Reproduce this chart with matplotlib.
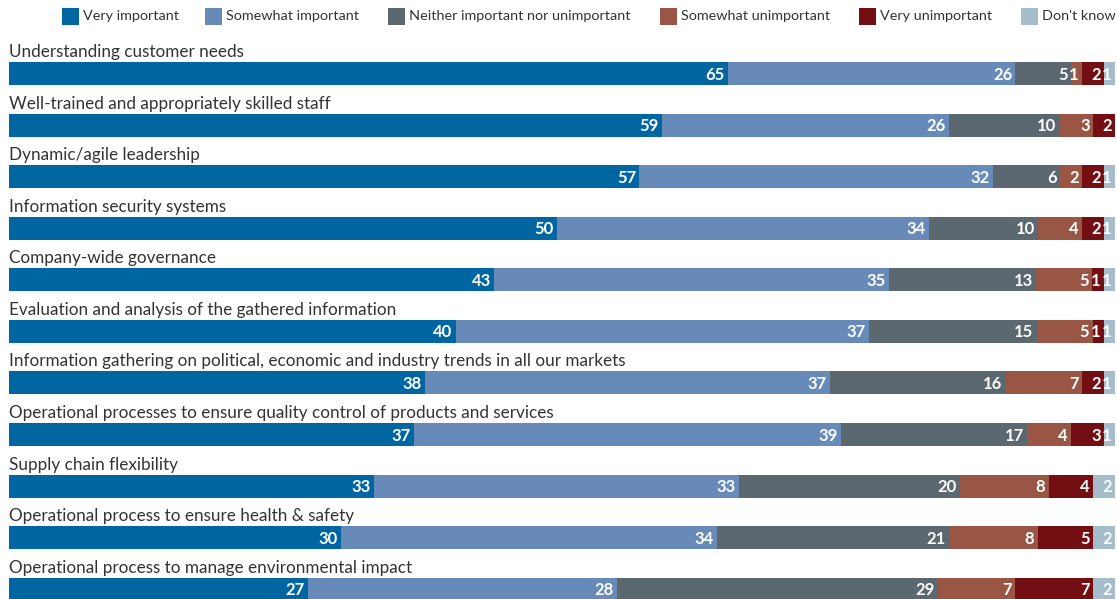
import numpy as np
import matplotlib.pyplot as plt
from matplotlib.patches import Rectangle

plt.rcParams['font.family'] = ['Lato', 'DejaVu Sans']

categories = [
    'Understanding customer needs',
    'Well-trained and appropriately skilled staff',
    'Dynamic/agile leadership',
    'Information security systems',
    'Company-wide governance',
    'Evaluation and analysis of the gathered information',
    'Information gathering on political, economic and industry trends in all our markets',
    'Operational processes to ensure quality control of products and services',
    'Supply chain flexibility',
    'Operational process to ensure health & safety',
    'Operational process to manage environmental impact',
]

series_names = ['Very important', 'Somewhat important', 'Neither important nor unimportant',
                'Somewhat unimportant', 'Very unimportant', "Don't know"]

very_important = [65, 59, 57, 50, 43, 40, 38, 37, 33, 30, 27]
somewhat_important = [26, 26, 32, 34, 35, 37, 37, 39, 33, 34, 28]
neither = [5, 10, 6, 10, 13, 15, 16, 17, 20, 21, 29]
somewhat_unimportant = [1, 3, 2, 4, 5, 5, 7, 4, 8, 8, 7]
very_unimportant = [2, 2, 2, 2, 1, 1, 2, 3, 4, 5, 7]
dont_know = [1, 0, 1, 1, 1, 1, 1, 1, 2, 2, 2]

colors = ['#0066a1', '#678ab9', '#5b6870', '#9a5645', '#730e12', '#a5bccb']

vals = np.array([very_important, somewhat_important, neither,
                 somewhat_unimportant, very_unimportant, dont_know], dtype=float)
# bars fill the full width (underlying shares are unrounded)
shares = vals / vals.sum(axis=0) * 100

W, H = 1117, 599
fig = plt.figure(figsize=(W / 100, H / 100), dpi=100)
ax = fig.add_axes([9 / W, 0, 1106 / W, 1])

step = 51.57
bh = 23 / step
y = np.arange(len(categories))
left = np.zeros(len(categories))
for k in range(len(series_names)):
    ax.barh(y, shares[k], left=left, height=bh, color=colors[k], label=series_names[k])
    for i in range(len(categories)):
        if vals[k, i] > 0:
            ax.text(left[i] + shares[k, i] - 0.3, y[i] + 0.02, '%d' % vals[k, i],
                    ha='right', va='center', color='white', fontsize=12, fontweight='bold')
    left += shares[k]

for i, c in enumerate(categories):
    ax.text(0, i - bh / 2 - 5 / step, c, ha='left', va='baseline', fontsize=12.3, color='#333333')

ax.set_xlim(0, 100)
ax.set_ylim((H - 73.5) / step, -73.5 / step)
ax.axis('off')

# legend drawn by hand to match the original spacing
legend_x = [62, 205, 388, 660, 859, 1021]
for x0, c, n in zip(legend_x, colors, series_names):
    fig.patches.append(Rectangle((x0 / W, 1 - 24.5 / H), 17 / W, 17 / H,
                                 transform=fig.transFigure, facecolor=c, edgecolor='none'))
    fig.text((x0 + 21) / W, 1 - 16 / H, n, ha='left', va='center', fontsize=10.4, color='#333333')

fig.savefig('out.png', dpi=100)
